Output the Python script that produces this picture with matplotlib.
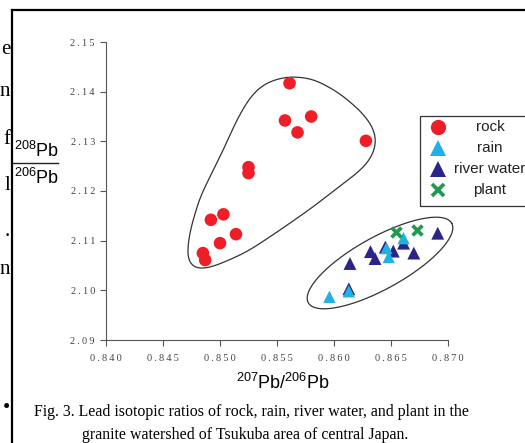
import numpy as np
import matplotlib
matplotlib.use('Agg')
import matplotlib.pyplot as plt
from matplotlib.lines import Line2D
from matplotlib.patches import Rectangle

plt.rcParams['mathtext.fontset'] = 'custom'
plt.rcParams['mathtext.rm'] = 'Liberation Sans'
plt.rcParams['mathtext.it'] = 'Liberation Sans'

#%% data
rock_x = [0.8561, 0.8557, 0.8580, 0.8568, 0.8628, 0.8525, 0.8525,
          0.8503, 0.8492, 0.8514, 0.8500, 0.8485, 0.8487]
rock_y = [2.1417, 2.1342, 2.1350, 2.1318, 2.1301, 2.1248, 2.1236,
          2.1153, 2.1142, 2.1113, 2.1095, 2.1075, 2.1061]

river_x = [0.8614, 0.8632, 0.8636, 0.8645, 0.8652, 0.8661, 0.8670, 0.8691, 0.8613]
river_y = [2.1054, 2.1078, 2.1064, 2.1087, 2.1079, 2.1095, 2.1075, 2.1115, 2.1003]

rain_x = [0.8596, 0.8613, 0.8646, 0.8648, 0.8661]
rain_y = [2.0987, 2.0998, 2.1085, 2.1067, 2.1105]

plant_x = [0.8654, 0.8673]
plant_y = [2.1118, 2.1121]

xticks = [0.840, 0.845, 0.850, 0.855, 0.860, 0.865, 0.870]
yticks = [2.09, 2.10, 2.11, 2.12, 2.13, 2.14, 2.15]

legend_labels = ['rock', 'rain', 'river water', 'plant']

# colours
c_rock = '#ee1d27'
c_rain = '#1fb0e4'
c_river = '#2a2586'
c_plant = '#1f9a50'

# hand drawn group outline round the rock points (axes fraction)
rock_outline = [(0.528, 0.886), (0.606, 0.878), (0.684, 0.828), (0.752, 0.761),
                (0.787, 0.705), (0.793, 0.661), (0.778, 0.611), (0.743, 0.567),
                (0.699, 0.530), (0.605, 0.446), (0.509, 0.369), (0.412, 0.295),
                (0.313, 0.245), (0.266, 0.233), (0.241, 0.246), (0.236, 0.291),
                (0.246, 0.369), (0.275, 0.481), (0.314, 0.570), (0.343, 0.638),
                (0.382, 0.738), (0.421, 0.816), (0.460, 0.861)]


def smooth_loop(pts, n=600, sigma=10):
    # resample the closed polygon evenly, then blur it round the loop
    p = np.array(pts + pts[:1], dtype=float)
    p_px = p * [342, 298]
    d = np.r_[0, np.cumsum(np.hypot(*np.diff(p_px, axis=0).T))]
    s = np.linspace(0, d[-1], n, endpoint=False)
    q = np.c_[np.interp(s, d, p[:, 0]), np.interp(s, d, p[:, 1])]
    k = np.exp(-0.5 * (np.arange(-3 * sigma, 3 * sigma + 1) / sigma) ** 2)
    k /= k.sum()
    qq = np.vstack([q[-3 * sigma:], q, q[:3 * sigma]])
    out = np.c_[np.convolve(qq[:, 0], k, 'valid'), np.convolve(qq[:, 1], k, 'valid')]
    return np.vstack([out, out[:1]])


def spaced(s):
    return '\u2009'.join(s)


#%% figure
W, H = 525, 443
fig = plt.figure(figsize=(W / 100, H / 100), dpi=100)
ax = fig.add_axes([106 / W, 103 / H, 342 / W, 298 / H])

ax.scatter(rock_x, rock_y, s=82, color=c_rock, edgecolors='none', zorder=3)
ax.scatter(river_x, river_y, s=86, marker='^', color=c_river, edgecolors='none', zorder=3)
ax.scatter(rain_x, rain_y, s=78, marker='^', color=c_rain, edgecolors='none', zorder=4)
ax.scatter(plant_x, plant_y, s=50, marker='x', color=c_plant, linewidths=2.7, zorder=5)

# outlines
env = smooth_loop(rock_outline)
ax.plot(env[:, 0], env[:, 1], color='#333333', lw=0.9, transform=ax.transAxes, clip_on=False)

t = np.linspace(0, 2 * np.pi, 300)
cx, cy, a, b, th = 274, 77, 82, 26, np.radians(29)
ex = cx + a * np.cos(t) * np.cos(th) - b * np.sin(t) * np.sin(th)
ey = cy + a * np.cos(t) * np.sin(th) + b * np.sin(t) * np.cos(th)
ax.plot(ex / 342, ey / 298, color='#333333', lw=0.9, transform=ax.transAxes, clip_on=False)

ax.set_xlim(0.840, 0.870)
ax.set_ylim(2.09, 2.15)
ax.set_xticks(xticks)
ax.set_xticklabels([spaced('%.3f' % v) for v in xticks])
ax.set_yticks(yticks)
ax.set_yticklabels([spaced('%.2f' % v) for v in yticks])
for sp in ['top', 'right']:
    ax.spines[sp].set_visible(False)
for sp in ['left', 'bottom']:
    ax.spines[sp].set_color('#555555')
    ax.spines[sp].set_linewidth(0.8)
ax.tick_params(axis='both', direction='out', length=4, width=0.8, color='#555555',
               labelsize=7.5, labelcolor='#444444')
ax.tick_params(axis='x', pad=6)
ax.tick_params(axis='y', pad=4)
for lab in ax.get_xticklabels() + ax.get_yticklabels():
    lab.set_family(['Liberation Serif', 'DejaVu Serif'])
ax.patch.set_alpha(0)

# axis titles
fig.text(283 / W, 1 - 383 / H, r'$^{207}$Pb/$^{206}$Pb', ha='center', va='center',
         fontsize=13, family='Liberation Sans')
fig.text(36 / W, 1 - 151 / H, r'$^{208}$Pb', ha='center', va='center',
         fontsize=13, family='Liberation Sans')
fig.text(36 / W, 1 - 178 / H, r'$^{206}$Pb', ha='center', va='center',
         fontsize=13, family='Liberation Sans')
fig.add_artist(Line2D([13 / W, 58 / W], [1 - 163 / H] * 2, color='#222222', lw=1))

# legend drawn by hand so the labels are centred like the original
fig.add_artist(Rectangle((420 / W, 1 - 206 / H), 120 / W, 90 / H, fill=False,
                         edgecolor='#333333', lw=0.9, transform=fig.transFigure))
leg_marks = [dict(marker='o', color=c_rock, ms=11),
             dict(marker='^', color=c_rain, ms=11),
             dict(marker='^', color=c_river, ms=11),
             dict(marker='x', color=c_plant, ms=8, mew=2.7)]
for i, (lab, mk) in enumerate(zip(legend_labels, leg_marks)):
    yy = 1 - (127 + 21 * i) / H
    fig.add_artist(Line2D([438 / W], [yy], linestyle='none', markeredgecolor=mk['color'],
                          markerfacecolor=mk['color'], marker=mk['marker'], markersize=mk['ms'],
                          markeredgewidth=mk.get('mew', 0), transform=fig.transFigure))
    fig.text(490 / W, yy, lab, ha='center', va='center', fontsize=11,
             family='Liberation Sans', color='#222222')

# caption
fig.text(252 / W, 1 - 412 / H,
         'Fig. 3. Lead isotopic ratios of rock, rain, river water, and plant in the',
         ha='center', va='center', fontsize=11.4, family='Liberation Serif')
fig.text(245 / W, 1 - 435 / H, 'granite watershed of Tsukuba area of central Japan.',
         ha='center', va='center', fontsize=11.4, family='Liberation Serif')

# page border and cut-off text of the scanned page
fig.add_artist(Line2D([12 / W, 12 / W], [0, 1 - 10 / H], color='black', lw=1.6))
fig.add_artist(Line2D([12 / W, 1], [1 - 10 / H] * 2, color='black', lw=1.6))
for ch, yp in zip(['e', 'n', 'f', 'l', '.', 'n', '\u2022'], [50, 92, 140, 185, 232, 270, 408]):
    fig.text(10 / W, 1 - yp / H, ch, ha='right', va='center', fontsize=15,
             family='Liberation Serif')

fig.savefig('out.png', dpi=100)
